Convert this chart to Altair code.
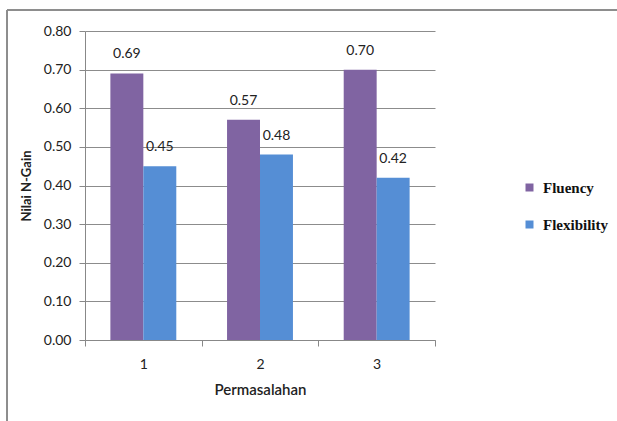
import altair as alt
import pandas as pd

# Values per problem (Permasalahan) and skill
categories = ["1", "2", "3"]
series = ["Fluency", "Flexibility"]
fluency = [0.69, 0.57, 0.70]
flexibility = [0.45, 0.48, 0.42]
colors = ["#8064A2", "#558ED5"]
y_ticks = [0.0, 0.1, 0.2, 0.3, 0.4, 0.5, 0.6, 0.7, 0.8]

rows = []
for i, c in enumerate(categories):
    rows.append({"cat": c, "series": "Fluency", "value": fluency[i]})
    rows.append({"cat": c, "series": "Flexibility", "value": flexibility[i]})
df = pd.DataFrame(rows)
df["label"] = df["value"].map(lambda v: f"{v:.2f}")

W, H = 350, 309
PAD_L, PAD_T = 85, 31

x = alt.X(
    "cat:N",
    sort=categories,
    scale=alt.Scale(paddingInner=0, paddingOuter=0),
    axis=alt.Axis(
        title="Permasalahan",
        labelAngle=0,
        tickBand="extent",
        ticks=True,
        tickSize=6,
        tickColor="#888888",
        domainColor="#888888",
        labelFont="Lato",
        labelFontSize=14,
        labelColor="#222222",
        labelPadding=11,
        titleFont="Lato",
        titleFontSize=15,
        titleFontWeight=600,
        titleColor="#222222",
        titlePadding=11,
    ),
)
xoff = alt.XOffset(
    "series:N", sort=series, scale=alt.Scale(paddingInner=0, paddingOuter=0.77)
)
y = alt.Y(
    "value:Q",
    scale=alt.Scale(domain=[0, 0.8], nice=False),
    axis=alt.Axis(
        title="Nilai N-Gain",
        values=y_ticks,
        format=".2f",
        grid=True,
        gridColor="#8c8c8c",
        gridWidth=1,
        tickColor="#888888",
        tickSize=6,
        domainColor="#888888",
        labelFont="Lato",
        labelFontSize=14,
        labelColor="#222222",
        labelPadding=8,
        labelOverlap=False,
        titleFont="Lato",
        titleFontSize=13,
        titleFontWeight="bold",
        titleColor="#222222",
        titlePadding=10,
    ),
)

bars = alt.Chart(df).mark_bar().encode(
    x=x,
    xOffset=xoff,
    y=y,
    color=alt.Color(
        "series:N",
        sort=series,
        scale=alt.Scale(domain=series, range=colors),
        legend=alt.Legend(
            title=None,
            orient="none",
            legendX=437,
            legendY=149,
            symbolType="square",
            symbolSize=64,
            symbolStrokeWidth=0,
            labelFont="Liberation Serif",
            labelFontWeight="bold",
            labelFontSize=15,
            labelColor="#111111",
            rowPadding=21,
            labelOffset=6,
        ),
    ),
)

labels = alt.Chart(df).mark_text(
    baseline="alphabetic", dy=-15, font="Lato", fontSize=14, color="#222222"
).encode(
    x=x,
    xOffset=xoff,
    y=y,
    text="label:N",
)

frame = alt.Chart(df).mark_rect(
    fill=None, stroke="#8c8c8c", strokeWidth=1
).encode(
    x=alt.value(-78), x2=alt.value(650), y=alt.value(-21), y2=alt.value(450)
)

chart = (
    alt.layer(frame, bars, labels)
    .properties(
        width=W,
        height=H,
        autosize=alt.AutoSizeParams(type="none"),
        padding={
            "left": PAD_L,
            "top": PAD_T,
            "right": 617 - PAD_L - W,
            "bottom": 421 - PAD_T - H,
        },
        background="white",
    )
    .configure_view(stroke=None)
)

chart.save("out.html", embed_options={"renderer": "svg", "actions": False})
